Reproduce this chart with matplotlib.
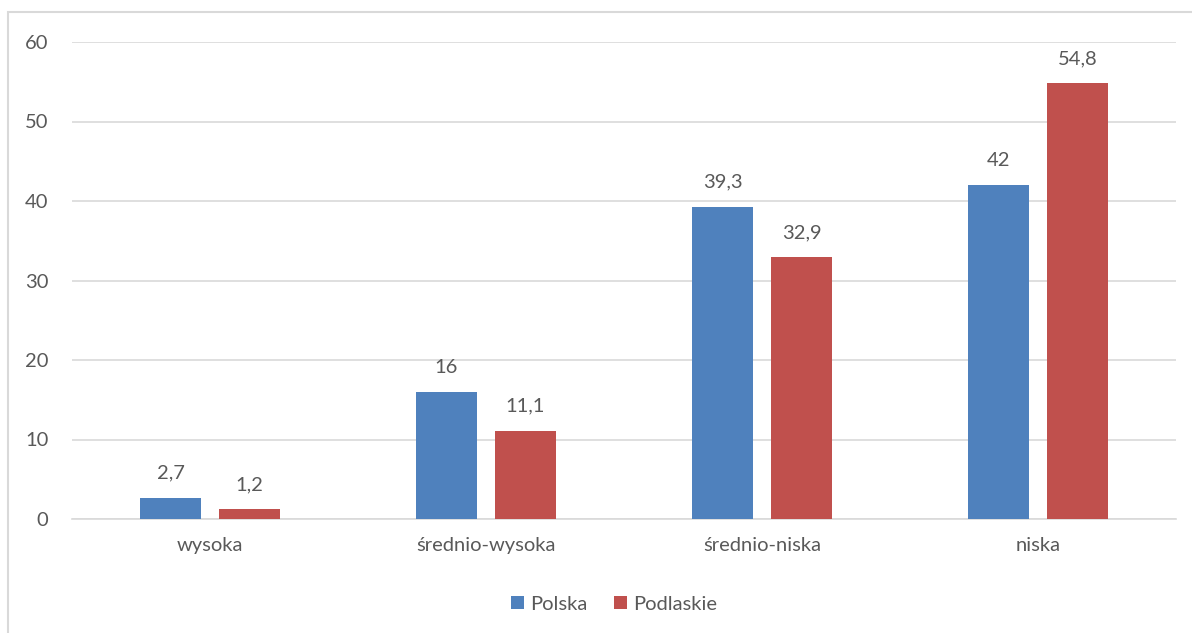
import matplotlib
matplotlib.use("Agg")
import matplotlib.pyplot as plt
from matplotlib.patches import Rectangle
import numpy as np

categories = ["wysoka", "średnio-wysoka", "średnio-niska", "niska"]
polska = [2.7, 16, 39.3, 42]
podlaskie = [1.2, 11.1, 32.9, 54.8]
polska_labels = ["2,7", "16", "39,3", "42"]
podlaskie_labels = ["1,2", "11,1", "32,9", "54,8"]
yticks = [0, 10, 20, 30, 40, 50, 60]

W, H = 1192, 633
plt.rcParams['font.family'] = ['Lato', 'DejaVu Sans']
txt = "#595959"
blue = "#4F81BD"
red = "#C0504D"
fs = 14.5

fig = plt.figure(figsize=(W / 100, H / 100), dpi=100)
fig.patches.append(Rectangle((8 / W, -0.1), 1.2, 1 - 12 / H + 0.1, transform=fig.transFigure,
                             fill=False, edgecolor="#D9D9D9", linewidth=1.5))
ax = fig.add_axes([72 / W, 1 - 519 / H, (1176 - 72) / W, (519 - 42) / H])

x = np.arange(len(categories))
bw = 0.221
off = 0.143
b1 = ax.bar(x - off, polska, bw, color=blue, label="Polska", zorder=3)
b2 = ax.bar(x + off, podlaskie, bw, color=red, label="Podlaskie", zorder=3)
for rect, lab in zip(b1, polska_labels):
    ax.text(rect.get_x() + rect.get_width() / 2, rect.get_height() + 2.0, lab,
            ha="center", va="bottom", fontsize=fs, color=txt)
for rect, lab in zip(b2, podlaskie_labels):
    ax.text(rect.get_x() + rect.get_width() / 2, rect.get_height() + 2.0, lab,
            ha="center", va="bottom", fontsize=fs, color=txt)

ax.set_xlim(-0.5, 3.5)
ax.set_ylim(0, 60)
ax.set_yticks(yticks)
ax.set_yticklabels([str(v) for v in yticks])
ax.set_xticks(x)
ax.set_xticklabels(categories)
ax.tick_params(axis="both", length=0, labelsize=fs, labelcolor=txt)
ax.tick_params(axis="y", pad=17)
ax.tick_params(axis="x", pad=13)
ax.grid(axis="y", color="#D9D9D9", linewidth=1.2, zorder=0)
for s in ["top", "right", "left"]:
    ax.spines[s].set_visible(False)
ax.spines["bottom"].set_color("#D9D9D9")
ax.spines["bottom"].set_linewidth(1.2)

leg = fig.legend(handles=[b1, b2], labels=["Polska", "Podlaskie"], loc="center",
                 bbox_to_anchor=(614 / W, 1 - 604 / H), ncol=2, frameon=False,
                 fontsize=fs, handlelength=0.65, handleheight=0.65, handletextpad=0.3,
                 columnspacing=1.3)
for t in leg.get_texts():
    t.set_color(txt)

fig.savefig("out.png", dpi=100)
